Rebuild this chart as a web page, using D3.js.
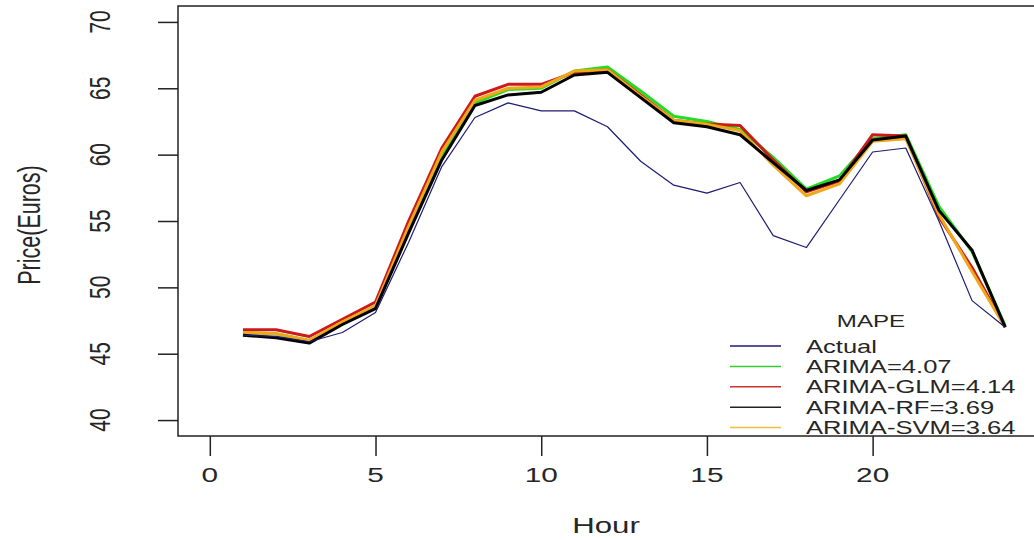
<!DOCTYPE html>
<html>
<head>
<meta charset="utf-8">
<script src="https://cdn.jsdelivr.net/npm/d3@7/dist/d3.min.js"></script>
<style>
  html, body { margin: 0; padding: 0; background: #fff; }
  svg { display: block; font-family: "Liberation Sans", Arial, sans-serif; }
</style>
</head>
<body>
<svg id="chart" width="1034" height="540"></svg>
<script>
const hours = d3.range(1, 25);
const xTicks = [0, 5, 10, 15, 20];
const yTicks = [40, 45, 50, 55, 60, 65, 70];

const actual = [46.4, 46.3, 45.9, 46.6, 48.1, 53.4, 59.1, 62.8, 63.9, 63.3, 63.3, 62.1,
  59.5, 57.7, 57.1, 57.9, 53.9, 53.0, 56.6, 60.2, 60.5, 55.0, 49.0, 47.0];
const arima = [46.6, 46.5, 46.0, 47.3, 48.6, 54.6, 60.0, 63.9, 64.9, 65.0, 66.3, 66.6,
  64.8, 62.9, 62.5, 61.9, 59.8, 57.4, 58.4, 61.2, 61.5, 56.1, 52.7, 47.1];
const arimaGlm = [46.8, 46.8, 46.3, 47.6, 48.9, 55.0, 60.5, 64.4, 65.3, 65.3, 66.2, 66.4,
  64.5, 62.6, 62.3, 62.2, 59.6, 57.2, 58.0, 61.5, 61.4, 55.3, 51.5, 47.0];
const arimaRf = [46.4, 46.2, 45.8, 47.2, 48.4, 54.1, 59.6, 63.7, 64.5, 64.7, 66.0, 66.2,
  64.3, 62.4, 62.1, 61.5, 59.4, 57.3, 58.1, 61.1, 61.4, 55.8, 52.8, 47.0];
const arimaSvm = [46.6, 46.5, 46.0, 47.4, 48.6, 54.6, 60.2, 64.1, 65.0, 65.1, 66.3, 66.4,
  64.4, 62.6, 62.3, 61.8, 59.2, 56.9, 57.8, 61.0, 61.2, 55.5, 51.2, 47.0];

const legendLabels = ["Actual", "ARIMA=4.07", "ARIMA-GLM=4.14", "ARIMA-RF=3.69", "ARIMA-SVM=3.64"];

const series = [
  { name: "ARIMA", values: arima, color: "#22dd22", width: 3 },
  { name: "ARIMA-GLM", values: arimaGlm, color: "#cc1a1a", width: 3 },
  { name: "ARIMA-SVM", values: arimaSvm, color: "#f0a818", width: 3 },
  { name: "ARIMA-RF", values: arimaRf, color: "#000000", width: 3 },
  { name: "Actual", values: actual, color: "#1c1c70", width: 1.2 }
];
const legendColors = ["#1c1c70", "#33cc33", "#cc3333", "#222222", "#e8c040"];

// the picture is stretched sideways, so text is widened the same way
const SX = 1.42;
const textColor = "#262626";

const svg = d3.select("#chart");

const x = d3.scaleLinear().domain([-0.96, 24.96]).range([178, 1037]);
const y = d3.scaleLinear().domain([38.8, 71.2]).range([436, 6]);

function wideText(parent, tx, ty, label, size, anchor, rotate) {
  return parent.append("text")
    .attr("transform", `translate(${tx},${ty}) scale(${SX},1)${rotate ? " rotate(-90)" : ""}`)
    .attr("text-anchor", anchor)
    .attr("font-size", size)
    .attr("fill", textColor)
    .text(label);
}

// plot box
svg.append("rect")
  .attr("x", x(-0.96)).attr("y", y(71.2))
  .attr("width", x(24.96) - x(-0.96)).attr("height", y(38.8) - y(71.2))
  .attr("fill", "none").attr("stroke", "#222").attr("stroke-width", 1.5);

// x axis
const xAxis = svg.append("g")
  .attr("transform", `translate(0,${y(38.8)})`)
  .call(d3.axisBottom(x).tickValues(xTicks).tickSize(20).tickFormat(""));
xAxis.select(".domain").remove();
xAxis.selectAll(".tick line").attr("stroke", "#222").attr("stroke-width", 1.5);
xAxis.selectAll(".tick text").remove();
for (const t of xTicks) {
  wideText(svg, x(t), 482, d3.format("d")(t), 21, "middle", false);
}

// y axis
const yAxis = svg.append("g")
  .attr("transform", `translate(${x(-0.96)},0)`)
  .call(d3.axisLeft(y).tickValues(yTicks).tickSize(20).tickFormat(""));
yAxis.select(".domain").remove();
yAxis.selectAll(".tick line").attr("stroke", "#222").attr("stroke-width", 1.5);
yAxis.selectAll(".tick text").remove();
for (const t of yTicks) {
  wideText(svg, 110, y(t), d3.format("d")(t), 21, "middle", true);
}

// axis titles
wideText(svg, 606, 533, "Hour", 22, "middle", false);
wideText(svg, 40, 225, "Price(Euros)", 21.5, "middle", true);

// lines
const line = d3.line()
  .x((d, i) => x(hours[i]))
  .y((d) => y(d));

svg.append("g")
  .selectAll("path")
  .data(series)
  .join("path")
  .attr("fill", "none")
  .attr("stroke", (s) => s.color)
  .attr("stroke-width", (s) => s.width)
  .attr("stroke-linejoin", "round")
  .attr("d", (s) => line(s.values));

// legend
const legend = svg.append("g");
wideText(legend, 871, 327, "MAPE", 17, "middle", false);

legendLabels.forEach((label, i) => {
  const ly = 346 + i * 20.4;
  legend.append("line")
    .attr("x1", 730).attr("x2", 781)
    .attr("y1", ly).attr("y2", ly)
    .attr("stroke", legendColors[i])
    .attr("stroke-width", 1.5);
  wideText(legend, 806, ly + 6.5, label, 18, "start", false);
});
</script>
</body>
</html>
